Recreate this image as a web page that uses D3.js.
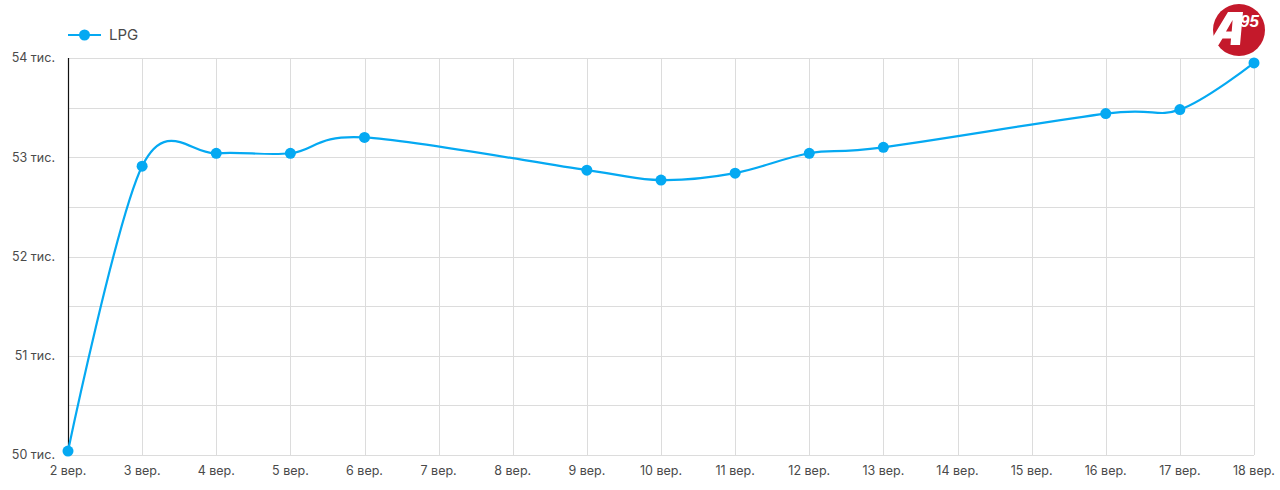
<!DOCTYPE html>
<html><head><meta charset="utf-8">
<script src="https://cdn.jsdelivr.net/npm/d3@7"></script>
<style>
html,body{margin:0;padding:0;background:#fff;}
svg{display:block;font-family:Inter,"Open Sans","Noto Sans",sans-serif;}
</style></head><body>
<svg id="c" width="1280" height="490"></svg>
<script>
const categories = ["2 вер.","3 вер.","4 вер.","5 вер.","6 вер.","7 вер.","8 вер.","9 вер.","10 вер.","11 вер.","12 вер.","13 вер.","14 вер.","15 вер.","16 вер.","17 вер.","18 вер."];
const lpgValues = [50040, 52910, 53040, 53040, 53200, null, null, 52870, 52770, 52840, 53040, 53100, null, null, 53440, 53480, 53950];
const yTicks = [50000, 51000, 52000, 53000, 54000];
const yTickLabels = ["50 тис.","51 тис.","52 тис.","53 тис.","54 тис."];
const seriesName = "LPG";

const svg = d3.select("#c");
const m = {l:68, r:1254, t:58, b:455};
const color = "#05a9f2";

const x = d3.scalePoint().domain(categories).range([m.l, m.r]);
const y = d3.scaleLinear().domain([50000, 54000]).range([m.b, m.t]);

// grid
const grid = svg.append("g");
grid.selectAll(".h").data(d3.range(50000, 54001, 500)).join("line")
  .attr("x1", m.l).attr("x2", m.r)
  .attr("y1", d=>Math.round(y(d))+0.5).attr("y2", d=>Math.round(y(d))+0.5)
  .attr("stroke", "#dcdcdc").attr("stroke-width", 1);
grid.selectAll(".v").data(categories.slice(1)).join("line")
  .attr("x1", d=>Math.round(x(d))+0.5).attr("x2", d=>Math.round(x(d))+0.5)
  .attr("y1", m.t).attr("y2", m.b)
  .attr("stroke", "#dcdcdc").attr("stroke-width", 1);

// left axis line
svg.append("line").attr("x1", m.l+0.5).attr("x2", m.l+0.5).attr("y1", m.t).attr("y2", m.b)
  .attr("stroke", "#111").attr("stroke-width", 1.2);

// y labels
svg.append("g").selectAll("text").data(yTicks).join("text")
  .attr("x", 55).attr("y", d=>y(d)).attr("dy", "0.35em")
  .attr("text-anchor", "end").attr("font-size", 12.5).attr("fill", "#4a4a4a")
  .text((d,i)=>yTickLabels[i]);

// x labels
svg.append("g").selectAll("text").data(categories).join("text")
  .attr("x", d=>x(d)).attr("y", 475)
  .attr("text-anchor", "middle").attr("font-size", 12.5).attr("fill", "#4a4a4a")
  .text(d=>d);

// line
const pts = categories.map((c,i)=>({c, v:lpgValues[i]})).filter(d=>d.v!==null);
const line = d3.line().x(d=>x(d.c)).y(d=>y(d.v)).curve(d3.curveCardinal.tension(0));
svg.append("path").datum(pts).attr("d", line)
  .attr("fill", "none").attr("stroke", color).attr("stroke-width", 2.2);
svg.append("g").selectAll("circle").data(pts).join("circle")
  .attr("cx", d=>x(d.c)).attr("cy", d=>y(d.v)).attr("r", 5.5).attr("fill", color);

// legend
const lg = svg.append("g");
lg.append("line").attr("x1", 68).attr("x2", 101).attr("y1", 35).attr("y2", 35)
  .attr("stroke", color).attr("stroke-width", 2.2);
lg.append("circle").attr("cx", 84.5).attr("cy", 35).attr("r", 5.5).attr("fill", color);
lg.append("text").attr("x", 109).attr("y", 35).attr("dy", "0.35em")
  .attr("font-size", 15).attr("fill", "#4a4a4a").text(seriesName);

// logo
const logo = svg.append("g");
logo.append("circle").attr("cx", 1239).attr("cy", 30).attr("r", 26).attr("fill", "#c4192b");
logo.append("path")
  .attr("d", "M1208,45 L1228,12 L1243,12 L1240,45 L1230.5,45 L1231,38.5 L1222.5,38.5 L1218.5,45 Z M1226,31.5 L1231.7,31.5 L1232.6,20 Z")
  .attr("fill", "#fff").attr("fill-rule", "evenodd");
logo.append("text").attr("x", 1240).attr("y", 27)
  .attr("font-size", 17).attr("font-weight", 900).attr("font-style", "italic")
  .attr("font-family", "Liberation Sans, Arial, sans-serif")
  .attr("fill", "#fff").text("95");
</script>
</body></html>
